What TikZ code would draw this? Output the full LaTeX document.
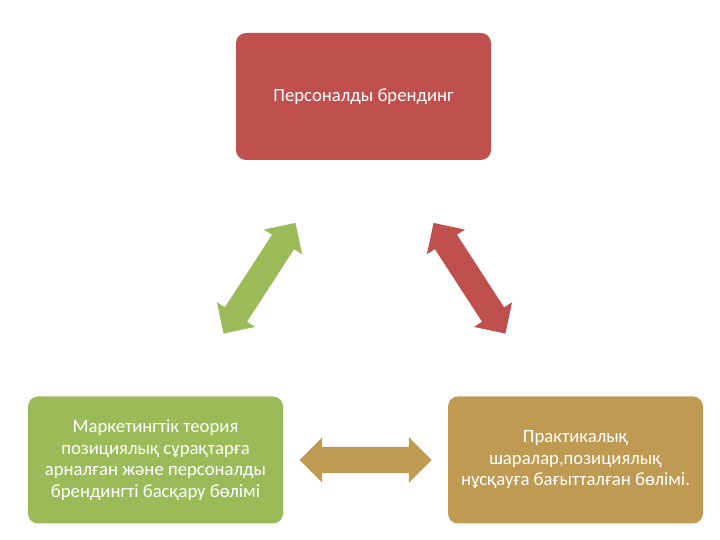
\documentclass[tikz,border=0pt]{standalone}
\usepackage{fontspec}
\setmainfont{Carlito}
\usepackage{tikz}
\usetikzlibrary{shapes.arrows,calc}
\definecolor{boxred}{HTML}{C0504D}
\definecolor{boxgreen}{HTML}{9BBB59}
\definecolor{boxgold}{HTML}{BF9A52}

\begin{document}
\begin{tikzpicture}[x=1pt, y=1pt]
\tikzset{part/.style={rounded corners=10pt, minimum width=255pt, minimum height=127pt, align=center, text=white, font=\fontsize{18.7}{21.5}\selectfont}}
\tikzset{link/.style={double arrow, double arrow head extend=9.5pt, text height=13pt, text depth=13pt, minimum height=132pt, inner sep=0pt}}
\useasboundingbox (0,0) rectangle (720,540);
\node[part, fill=boxred] (brand) at (363.5,443.5) {Персоналды брендинг};
\node[part, fill=boxgreen] (theory) at (155.5,80) {Маркетингтік теория\\позициялық сұрақтарға\\арналған және персоналды\\брендингті басқару бөлімі};
\node[part, fill=boxgold] (practice) at (575.5,80) {Практикалық\\шаралар,позициялық\\нұсқауға бағытталған бөлімі.};
\node[link, fill=boxgreen, rotate=57] (brandtheory) at ($(brand)!0.5!(theory)$) {};
\node[link, fill=boxred, rotate=-57] (brandpractice) at ($(brand)!0.5!(practice)$) {};
\node[link, fill=boxgold] (theorypractice) at ($(theory)!0.5!(practice)$) {};
\end{tikzpicture}
\end{document}
